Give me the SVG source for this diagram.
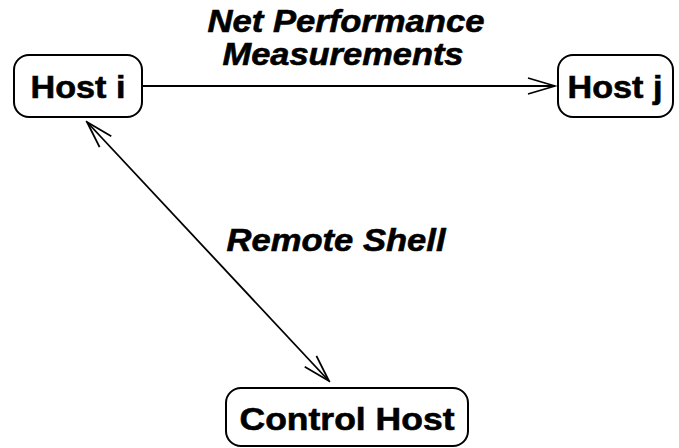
<svg xmlns="http://www.w3.org/2000/svg" width="679" height="448" viewBox="0 0 679 448">
<style>
.box{fill:#fff;stroke:#000;stroke-width:2}
.lbl{font-family:"Liberation Sans",Arial,Helvetica,sans-serif;font-weight:bold;font-size:32px;fill:#000;stroke:#000;stroke-width:0.6;text-anchor:middle}
.it{font-style:italic}
.ln{stroke:#000;stroke-width:1.8;fill:none}
</style>
<defs>
<marker id="v" viewBox="-28 -10 30 20" refX="0" refY="0" markerWidth="30" markerHeight="20" markerUnits="userSpaceOnUse" orient="auto-start-reverse">
<path d="M-27,-8 L0,0 L-27,8" fill="none" stroke="#000" stroke-width="1.8"/>
</marker>
</defs>
<rect width="679" height="448" fill="#fff"/>
<g id="connectors">
<line class="ln" x1="143" y1="86" x2="555" y2="86" marker-end="url(#v)"/>
<line class="ln" x1="87" y1="122" x2="329" y2="381" marker-start="url(#v)" marker-end="url(#v)"/>
</g>
<g id="labels">
<text class="lbl it" x="346" y="32" textLength="277" lengthAdjust="spacingAndGlyphs">Net Performance</text>
<text class="lbl it" x="343" y="65" textLength="241" lengthAdjust="spacingAndGlyphs">Measurements</text>
<text class="lbl it" x="336" y="251" textLength="219" lengthAdjust="spacingAndGlyphs">Remote Shell</text>
</g>
<g id="host-i">
<rect class="box" x="14" y="55" width="128" height="62" rx="15"/>
<text class="lbl" x="78" y="98" textLength="95" lengthAdjust="spacingAndGlyphs">Host i</text>
</g>
<g id="host-j">
<rect class="box" x="558" y="55" width="115" height="62" rx="15"/>
<text class="lbl" x="615" y="98" textLength="95" lengthAdjust="spacingAndGlyphs">Host j</text>
</g>
<g id="control-host">
<rect class="box" x="226" y="388" width="242" height="58" rx="15"/>
<text class="lbl" x="347" y="430" textLength="215" lengthAdjust="spacingAndGlyphs">Control Host</text>
</g>
</svg>
